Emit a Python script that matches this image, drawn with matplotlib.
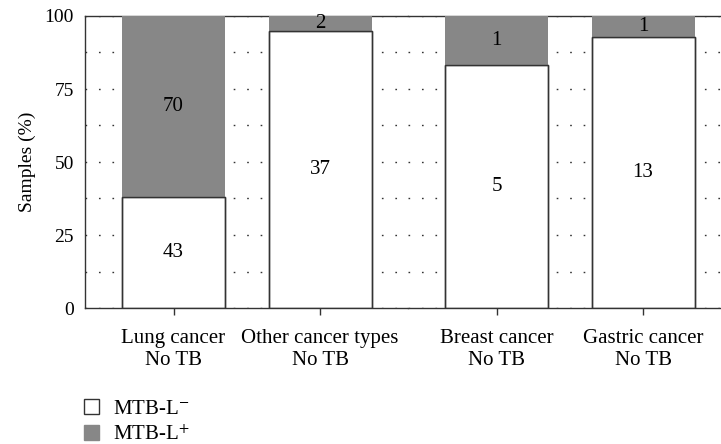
import numpy as np
import matplotlib.pyplot as plt
from matplotlib.patches import Patch

plt.rcParams['font.family'] = ['Liberation Serif', 'DejaVu Serif']
plt.rcParams['mathtext.fontset'] = 'stix'

# counts per group (two panels of two bars each)
groups = [["Lung cancer\nNo TB", "Other cancer types\nNo TB"],
          ["Breast cancer\nNo TB", "Gastric cancer\nNo TB"]]
neg_counts = [[43, 37], [5, 13]]
pos_counts = [[70, 2], [1, 1]]
y_ticks = [0, 25, 50, 75, 100]

grey = '#878787'
edge = '#333333'
fs = 15

fig = plt.figure(figsize=(7.21, 4.44), dpi=100)
ax_l = fig.add_axes([85 / 721, 1 - 308 / 444, 323 / 721, 292 / 444])
ax_r = fig.add_axes([408 / 721, 1 - 308 / 444, 323 / 721, 292 / 444])

for i, ax in enumerate([ax_l, ax_r]):
    neg = np.array(neg_counts[i], dtype=float)
    pos = np.array(pos_counts[i], dtype=float)
    total = neg + pos
    neg_pct = neg / total * 100
    pos_pct = pos / total * 100
    x = np.arange(len(neg))

    ax.bar(x, neg_pct, width=0.703, color='white', edgecolor=edge, linewidth=1, zorder=3)
    ax.bar(x, pos_pct, bottom=neg_pct, width=0.703, color=grey, edgecolor='none', zorder=3)
    # redraw the boundary line between segments
    ax.bar(x, neg_pct, width=0.703, color='none', edgecolor=edge, linewidth=1, zorder=4)

    for xi, n, p, nc, pc in zip(x, neg_pct, pos_pct, neg_counts[i], pos_counts[i]):
        ax.text(xi, n / 2, str(nc), ha='center', va='center', fontsize=fs, zorder=5)
        ax.text(xi, n + p / 2, str(pc), ha='center', va='center', fontsize=fs, zorder=5)

    ax.set_xlim(-0.604, 1.6)
    ax.set_ylim(0, 100)
    ax.set_xticks(x)
    ax.set_xticklabels(groups[i], fontsize=fs, linespacing=1.2)
    ax.tick_params(axis='x', length=5, width=1, color=edge, pad=10)
    ax.set_yticks(np.arange(0, 100.1, 12.5), minor=True)
    ax.grid(axis='y', which='both', linestyle=(0, (1.2, 8.5)), color='#333333', linewidth=1.0, zorder=0)
    ax.set_axisbelow(True)
    for s in ax.spines.values():
        s.set_color(edge)
        s.set_linewidth(1)
    ax.spines['right'].set_visible(False)
    ax.tick_params(axis='y', which='both', length=0)

ax_l.set_yticks(y_ticks)
ax_l.set_yticklabels([str(t) for t in y_ticks], fontsize=14)
ax_l.tick_params(axis='y', pad=8)
ax_l.set_ylabel('Samples (%)', fontsize=14, labelpad=6)
ax_r.spines['left'].set_visible(False)
ax_r.set_yticks(y_ticks)
ax_r.set_yticklabels([])

handles = [Patch(facecolor='white', edgecolor=edge, linewidth=1, label=r'MTB-L$^{-}$'),
           Patch(facecolor=grey, edgecolor=grey, label=r'MTB-L$^{+}$')]
fig.legend(handles=handles, loc='upper left', bbox_to_anchor=(78 / 721, 1 - 393 / 444),
           frameon=False, fontsize=fs, handlelength=0.7, handleheight=0.7,
           handletextpad=0.7, labelspacing=0.3, borderaxespad=0, borderpad=0.3)

fig.savefig('out.png', dpi=100)
